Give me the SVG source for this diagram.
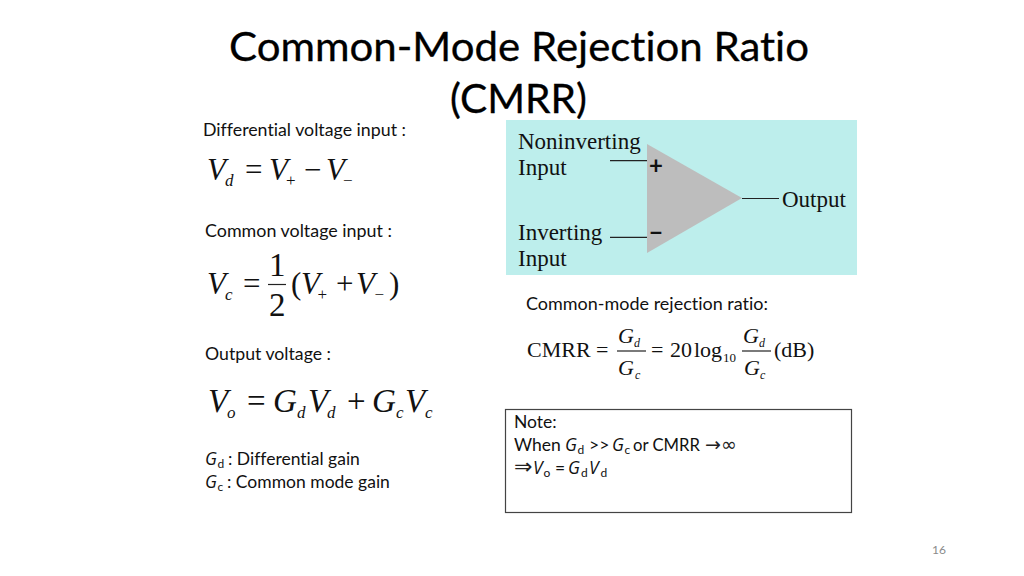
<svg xmlns="http://www.w3.org/2000/svg" width="1024" height="576" viewBox="0 0 1024 576">
<style>
text{white-space:pre;font-variant-ligatures:none}
.s{font-family:"Lato","Open Sans",sans-serif;fill:#111}
.b{font-size:17.5px}
.g{font-family:"Open Sans","Noto Sans",sans-serif;font-style:italic;font-size:17.5px;fill:#111}
.u{font-size:12px}
.y{font-family:"DejaVu Sans",sans-serif;fill:#222}
.t{font-size:40px;fill:#000;stroke:#000;stroke-width:.3px}
.m{font-family:"Liberation Serif","Times New Roman",serif;fill:#111}
.i{font-style:italic}
.l{stroke:#222;stroke-width:1.2;fill:none}
</style>
<rect width="1024" height="576" fill="#fff"/>
<g id="title">
<text class="s t" x="229" y="60.500" textLength="580" lengthAdjust="spacingAndGlyphs">Common-Mode Rejection Ratio</text>
<text class="s t" x="450" y="112.500" textLength="137" lengthAdjust="spacingAndGlyphs">(CMRR)</text>
</g>
<g id="differential-input">
<text class="s b" x="203" y="135.500" textLength="203" lengthAdjust="spacingAndGlyphs">Differential voltage input :</text>
<text class="m i" font-size="31" x="207" y="180">V</text>
<text class="m i" font-size="17" x="225" y="186">d</text>
<text class="m" font-size="31" x="245" y="180">=</text>
<text class="m i" font-size="31" x="269" y="180">V</text>
<text class="m" font-size="17" x="286" y="186">+</text>
<text class="m" font-size="31" x="304" y="180">−</text>
<text class="m i" font-size="31" x="326" y="180">V</text>
<text class="m" font-size="17" x="343" y="186">−</text>
</g>
<g id="common-input">
<text class="s b" x="205" y="236.500" textLength="187" lengthAdjust="spacingAndGlyphs">Common voltage input :</text>
<text class="m i" font-size="31" x="207" y="294">V</text>
<text class="m i" font-size="17" x="225" y="300">c</text>
<text class="m" font-size="31" x="243" y="294">=</text>
<text class="m" font-size="33" x="269" y="276">1</text>
<line class="l" x1="268" y1="284.500" x2="286" y2="284.500"/>
<text class="m" font-size="33" x="269" y="316">2</text>
<text class="m" font-size="31" x="291" y="294">(</text>
<text class="m i" font-size="31" x="301" y="294">V</text>
<text class="m" font-size="17" x="317.500" y="300">+</text>
<text class="m" font-size="31" x="336" y="294">+</text>
<text class="m i" font-size="31" x="356" y="294">V</text>
<text class="m" font-size="17" x="374.500" y="300">−</text>
<text class="m" font-size="31" x="389" y="294">)</text>
</g>
<g id="output-voltage">
<text class="s b" x="205" y="359.500" textLength="126" lengthAdjust="spacingAndGlyphs">Output voltage :</text>
<text class="m i" font-size="33" x="208" y="412">V</text>
<text class="m i" font-size="17" x="227" y="418">o</text>
<text class="m" font-size="33" x="247" y="412">=</text>
<text class="m i" font-size="33" x="273" y="412">G</text>
<text class="m i" font-size="17" x="297" y="418">d</text>
<text class="m i" font-size="33" x="308" y="412">V</text>
<text class="m i" font-size="17" x="327" y="418">d</text>
<text class="m" font-size="33" x="347" y="412">+</text>
<text class="m i" font-size="33" x="372" y="412">G</text>
<text class="m i" font-size="17" x="396" y="418">c</text>
<text class="m i" font-size="33" x="405" y="412">V</text>
<text class="m i" font-size="17" x="425" y="418">c</text>
</g>
<g id="gains">
<text class="g" x="205" y="465">G</text><text class="s u" x="217.500" y="468">d</text>
<text class="s b" x="228" y="465">: Differential gain</text>
<text class="g" x="205" y="488">G</text><text class="s u" x="217.500" y="491">c</text>
<text class="s b" x="227" y="488">: Common mode gain</text>
</g>
<g id="opamp">
<rect x="506" y="120" width="351" height="155" fill="#bdeeec"/>
<polygon points="647,144 742,198 647,253" fill="#bdbdbd"/>
<text class="m" font-size="23" x="518" y="149">Noninverting</text>
<text class="m" font-size="23" x="518" y="175">Input</text>
<text class="m" font-size="23" x="518" y="240">Inverting</text>
<text class="m" font-size="23" x="518" y="266">Input</text>
<text class="m" font-size="23" x="782" y="207">Output</text>
<text class="s" font-size="24" font-weight="700" x="649" y="174">+</text>
<text class="s" font-size="24" font-weight="700" x="649" y="241">−</text>
</g>
<g id="connectors">
<line class="l" x1="610" y1="160.700" x2="647" y2="160.700"/>
<line class="l" x1="610" y1="237.300" x2="647" y2="237.300"/>
<line class="l" x1="742" y1="198.500" x2="779" y2="198.500"/>
</g>
<g id="cmrr">
<text class="s b" x="526" y="310" textLength="242" lengthAdjust="spacingAndGlyphs">Common-mode rejection ratio:</text>
<text class="m" font-size="22" x="527" y="357">CMRR</text>
<text class="m" font-size="22" x="596" y="357">=</text>
<text class="m i" font-size="22" x="618" y="343">G</text>
<text class="m i" font-size="12" x="634" y="347">d</text>
<line class="l" x1="617" y1="351" x2="646" y2="351"/>
<text class="m i" font-size="22" x="618" y="375">G</text>
<text class="m i" font-size="12" x="635" y="379">c</text>
<text class="m" font-size="22" x="651" y="357">=</text>
<text class="m" font-size="22" x="670" y="357">20</text>
<text class="m" font-size="22" x="694" y="357">log</text>
<text class="m" font-size="13" x="723" y="362">10</text>
<text class="m i" font-size="22" x="743" y="343">G</text>
<text class="m i" font-size="12" x="759" y="347">d</text>
<line class="l" x1="742" y1="351" x2="771" y2="351"/>
<text class="m i" font-size="22" x="744" y="375">G</text>
<text class="m i" font-size="12" x="760" y="379">c</text>
<text class="m" font-size="22" x="774" y="357">(dB)</text>
</g>
<g id="note">
<rect x="505.500" y="409.500" width="346" height="103" fill="#fff" stroke="#444" stroke-width="1.200"/>
<text class="s b" x="514" y="428">Note:</text>
<text class="s b" x="514" y="451">When</text>
<text class="g" x="565" y="451">G</text><text class="s u" x="577.500" y="454">d</text>
<text class="s b" x="589" y="451">&gt;&gt;</text>
<text class="g" x="612" y="451">G</text><text class="s u" x="624.500" y="454">c</text>
<text class="s b" x="633" y="451" textLength="67" lengthAdjust="spacingAndGlyphs">or CMRR</text>
<text class="y" font-size="19" x="705" y="451">→∞</text>
<text class="y" font-size="22" x="514" y="474">⇒</text>
<text class="g" x="533" y="474">V</text><text class="s u" x="543.500" y="477">o</text>
<text class="s b" x="555" y="474">=</text>
<text class="g" x="568" y="474">G</text><text class="s u" x="581" y="477">d</text>
<text class="g" x="589" y="474">V</text><text class="s u" x="600.500" y="477">d</text>
</g>
<g id="page-number">
<text class="s" font-size="12" style="fill:#8a8a8a" x="932" y="554">16</text>
</g>
</svg>
